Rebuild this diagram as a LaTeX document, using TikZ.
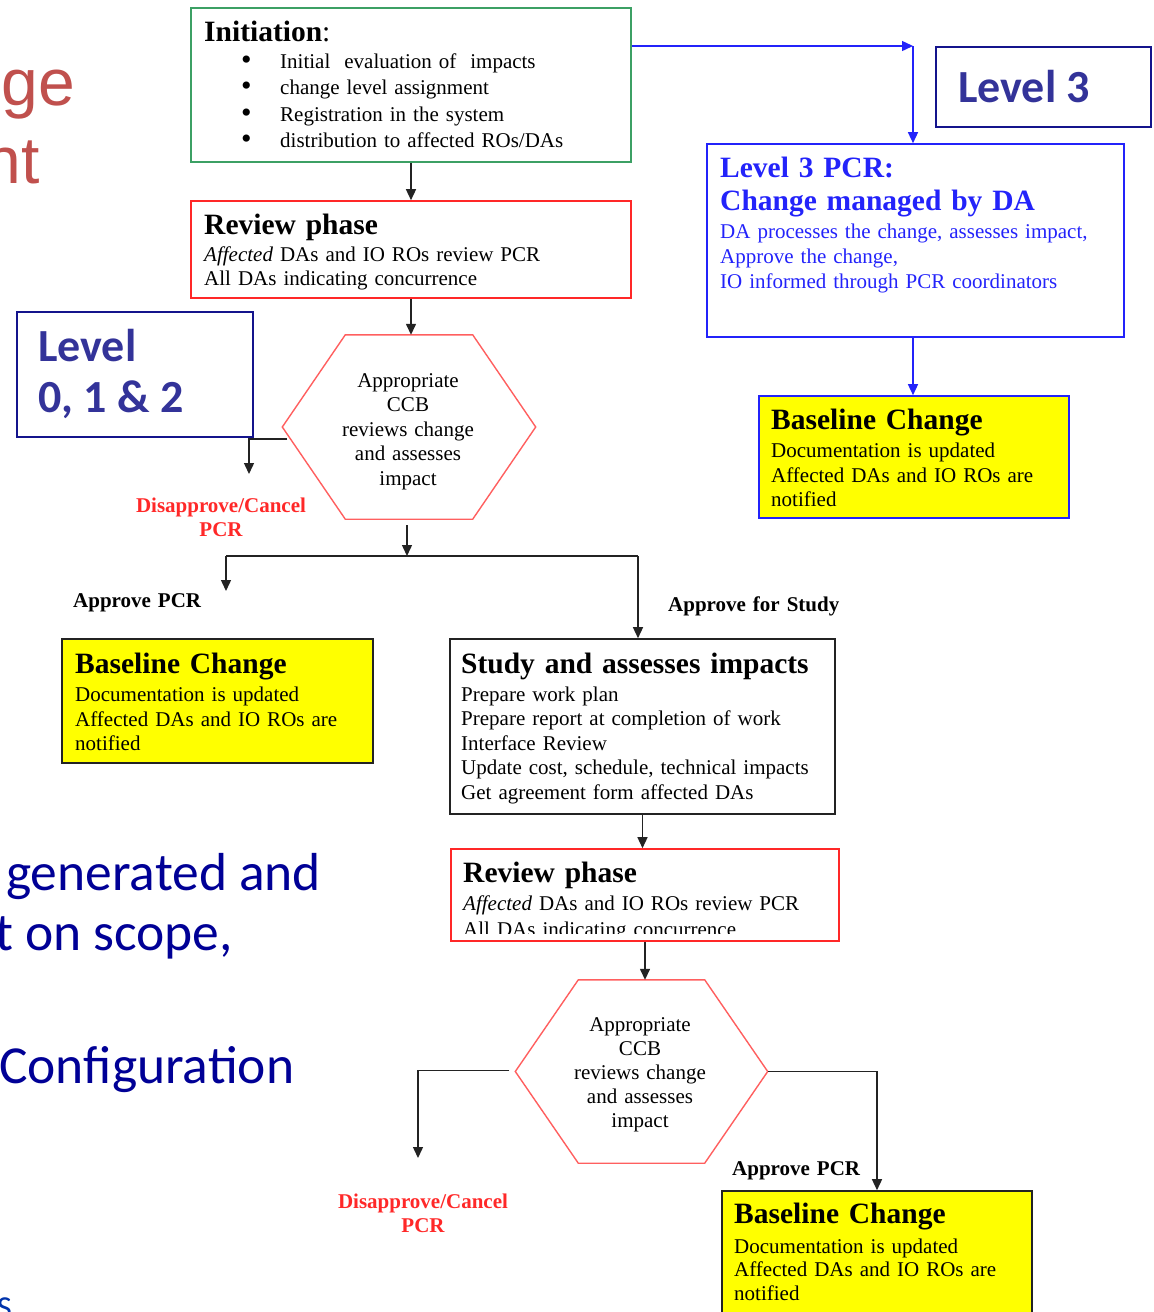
\documentclass[tikz,border=0pt]{standalone}
\usepackage{fontspec}
\setmainfont{Liberation Serif}
\newfontfamily\slidesans{Carlito}
\newfontfamily\headsans{Liberation Sans}
\usetikzlibrary{arrows.meta,calc}

\definecolor{initgreen}{RGB}{60,160,100}
\definecolor{revred}{RGB}{255,40,40}
\definecolor{hexred}{RGB}{255,95,95}
\definecolor{lvlnavy}{RGB}{20,20,140}
\definecolor{lvltext}{RGB}{51,51,153}
\definecolor{pcrblue}{RGB}{35,35,250}
\definecolor{basefill}{RGB}{255,255,0}
\definecolor{slidered}{RGB}{192,80,77}
\definecolor{slideblue}{RGB}{0,0,150}
\definecolor{linegray}{RGB}{35,35,35}

\newcommand\fsTitle{\fontsize{29.5}{33}\selectfont\bfseries}
\newcommand\fsBody{\fontsize{21}{24.5}\selectfont}
\newcommand\fsLabel{\fontsize{21}{24}\selectfont\bfseries}
\newcommand\fsLevel{\slidesans\fontsize{46}{51}\selectfont\bfseries}
\newcommand\itemdot{\makebox[39pt][l]{\smash{\raisebox{-1pt}{\fontsize{30}{30}\selectfont\textbullet}}}}

\begin{document}
\begin{tikzpicture}[x=1pt,y=-1pt,
  box/.style={draw,rectangle,inner sep=0pt,line width=1.6pt},
  basebox/.style={box,fill=basefill},
  lvlbox/.style={box,draw=lvlnavy,line width=1.8pt},
  txt/.style={inner sep=0pt,anchor=base west,align=left,text width=400pt},
  ctxt/.style={inner sep=0pt,anchor=base,align=center,text width=220pt},
  hexline/.style={draw=hexred,line width=1.4pt},
  conn/.style={draw=linegray,line width=1.4pt,-{Triangle[length=11pt,width=10pt]}},
  bconn/.style={draw=pcrblue,line width=1.4pt,-{Triangle[length=11pt,width=10pt]}},
  slide/.style={inner sep=0pt,anchor=base west,text=slideblue,font=\slidesans\fontsize{53.5}{60}\selectfont},
  redslide/.style={inner sep=0pt,anchor=base east,text=slidered,font=\headsans\fontsize{66}{76}\selectfont},
]
\useasboundingbox (0,0) rectangle (1154,1312);

% ---- slide text behind the chart ----
\node[redslide] (sgA) at (75.5,105) {ge};
\node[redslide] (sgB) at (40,183) {nt};
\node[slide] (slA) at (6,890) {generated and};
\node[slide] (slB) at (-5,950) {t on scope,};
\node[slide] (slC) at (-1,1083) {Configuration};
\node[inner sep=0pt,anchor=base west,text=slideblue!80!cyan,font=\slidesans\fontsize{32}{36}\selectfont] (slD) at (-3,1318) {S};

% ---- level tags ----
\node[lvlbox,minimum width=215pt,minimum height=80pt] (lvl3) at (1043.5,87) {};
\node[inner sep=0pt,anchor=base west,text=lvltext,font=\fsLevel] (lvl3T) at (958,102) {Level 3};
\node[lvlbox,minimum width=236pt,minimum height=125pt] (lvl012) at (135,374.5) {};
\node[inner sep=0pt,anchor=base west,text=lvltext,font=\fsLevel] (lvl012A) at (38,361) {Level};
\node[inner sep=0pt,anchor=base west,text=lvltext,font=\fsLevel] (lvl012B) at (38,412) {0, 1 \& 2};

% ---- initiation ----
\node[box,draw=initgreen,line width=1.4pt,minimum width=440pt,minimum height=154pt] (init) at (411,85) {};
\node[txt,font=\fsTitle] (initT) at (204,41) {Initiation{\mdseries:}};
\node[txt,font=\fontsize{21}{26.6}\selectfont] (initL) at (241,68) {%
  \itemdot Initial\ \ evaluation of\ \ impacts\\
  \itemdot change level assignment\\
  \itemdot Registration in the system\\
  \itemdot distribution to affected ROs/DAs};

% ---- first review ----
\node[box,draw=revred,minimum width=440pt,minimum height=97pt] (rev1) at (411,249.5) {};
\node[txt,font=\fsTitle] (rev1T) at (204,234) {Review phase};
\node[txt,font=\fsBody] (rev1B) at (204,261) {\textit{Affected} DAs and IO ROs review PCR\\All DAs indicating concurrence};

% ---- first CCB hexagon ----
\node[inner sep=0pt,minimum width=253pt,minimum height=184pt] (hexA) at (409,427) {};
\draw[hexline] ([xshift=63pt]hexA.north west) -- ([xshift=-63pt]hexA.north east) -- (hexA.east)
  -- ([xshift=-63pt]hexA.south east) -- ([xshift=63pt]hexA.south west) -- (hexA.west) -- cycle;
\node[ctxt,font=\fsBody] (hexAT) at (408,387) {Appropriate\\CCB\\reviews change\\and assesses\\impact};

% ---- level 3 path ----
\node[box,draw=pcrblue,minimum width=417pt,minimum height=193pt] (pcr) at (915.5,240.5) {};
\node[txt,text=pcrblue,font=\fontsize{29.5}{33}\selectfont\bfseries] (pcrT) at (720,177) {Level 3 PCR:\\Change managed by DA};
\node[txt,text=pcrblue,font=\fontsize{21}{25}\selectfont] (pcrB) at (720,238) {DA processes the change, assesses impact,\\Approve the change,\\IO informed through PCR coordinators};

\node[basebox,draw=pcrblue,minimum width=310pt,minimum height=122pt] (blA) at (914,457) {};
\node[txt,font=\fsTitle] (blAT) at (771,429) {Baseline Change};
\node[txt,font=\fsBody] (blAB) at (771,457.5) {Documentation is updated\\Affected DAs and IO ROs are\\notified};

% ---- outcome labels ----
\node[ctxt,text=revred,font=\fsLabel] (dis1) at (221,512) {Disapprove/Cancel\\PCR};
\node[txt,font=\fsLabel] (app1) at (73,607) {Approve PCR};
\node[txt,font=\fsLabel] (appS) at (668,611) {Approve for Study};

% ---- left baseline change ----
\node[basebox,draw=linegray,minimum width=311pt,minimum height=124pt] (blB) at (217.5,701) {};
\node[txt,font=\fsTitle] (blBT) at (75,673) {Baseline Change};
\node[txt,font=\fsBody] (blBB) at (75,701.5) {Documentation is updated\\Affected DAs and IO ROs are\\notified};

% ---- study ----
\node[box,draw=linegray,minimum width=385pt,minimum height=175pt] (study) at (642.5,726.5) {};
\node[txt,font=\fsTitle] (studyT) at (461,673) {Study and assesses impacts};
\node[txt,font=\fontsize{21}{24.4}\selectfont] (studyB) at (461,701.5) {Prepare work plan\\Prepare report at completion of work\\Interface Review\\Update cost, schedule, technical impacts\\Get agreement form affected DAs};

% ---- second review (last line runs into the frame) ----
\node[box,draw=revred,minimum width=388pt,minimum height=92pt] (rev2) at (645,895) {};
\node[txt,font=\fsTitle] (rev2T) at (463,882) {Review phase};
\begin{scope}
  \clip (rev2.north west) rectangle ($(rev2.south east)+(0,-8)$);
  \node[txt,font=\fontsize{21}{26}\selectfont] (rev2B) at (463,910) {\textit{Affected} DAs and IO ROs review PCR\\All DAs indicating concurrence};
\end{scope}

% ---- second CCB hexagon ----
\node[inner sep=0pt,minimum width=252pt,minimum height=183pt] (hexB) at (641.5,1071.5) {};
\draw[hexline] ([xshift=63pt]hexB.north west) -- ([xshift=-63pt]hexB.north east) -- (hexB.east)
  -- ([xshift=-63pt]hexB.south east) -- ([xshift=63pt]hexB.south west) -- (hexB.west) -- cycle;
\node[ctxt,font=\fontsize{21}{24}\selectfont] (hexBT) at (640,1031) {Appropriate\\CCB\\reviews change\\and assesses\\impact};

\node[ctxt,text=revred,font=\fsLabel] (dis2) at (423,1208) {Disapprove/Cancel\\PCR};
\node[txt,font=\fsLabel] (app2) at (732,1175) {Approve PCR};

% ---- bottom baseline change ----
\node[basebox,draw=linegray,minimum width=310pt,minimum height=140pt] (blC) at (877,1261) {};
\node[txt,font=\fsTitle] (blCT) at (734,1223) {Baseline Change};
\node[txt,font=\fontsize{21}{23.6}\selectfont] (blCB) at (734,1253) {Documentation is updated\\Affected DAs and IO ROs are\\notified};

% ---- connectors ----
\coordinate (bc) at (913,46);
\coordinate (d1) at (249,474);
\coordinate (j1) at (407,556);
\coordinate (jL) at (226,556);
\coordinate (jR) at (638,556);
\coordinate (a1) at (226,591);
\coordinate (d2) at (418,1158);

\draw[conn] (init.south) -- (init.south |- rev1.north);
\draw[conn] (rev1.south) -- (rev1.south |- hexA.north);
\draw[conn] ($(hexA.west)+(5,12)$) -| (d1);
\draw[conn] ($(hexA.south)+(-2,6)$) -- (j1);
\draw[line width=1.4pt,draw=linegray] (jL) -- (jR);
\draw[conn] (jL) -- (a1);
\draw[conn] (jR) -- (jR |- study.north);
\draw[conn] (study.south) -- (study.south |- rev2.north);
\draw[conn] (rev2.south) -- (rev2.south |- hexB.north);
\draw[conn] ($(hexB.west)+(-6,-1)$) -| (d2);
\draw[conn] (hexB.east) -| (blC.north);

\draw[bconn] (init.east |- bc) -- (bc);
\draw[bconn] (bc) -- (bc |- pcr.north);
\draw[bconn] (bc |- pcr.south) -- (bc |- blA.north);
\end{tikzpicture}
\end{document}
